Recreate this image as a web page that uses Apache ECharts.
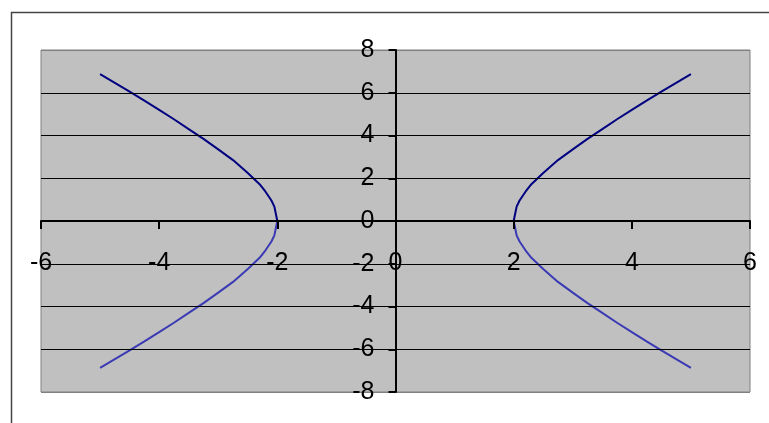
<!DOCTYPE html>
<html>
<head>
<meta charset="utf-8">
<script src="https://cdn.jsdelivr.net/npm/echarts@6/dist/echarts.min.js"></script>
<style>
html,body{margin:0;padding:0;background:#fff;}
#chart{width:769px;height:423px;}
</style>
</head>
<body>
<div id="chart"></div>
<script>
// Values
var xRight = [2, 2.05, 2.1, 2.2, 2.3, 2.5, 2.75, 3, 3.25, 3.5, 3.75, 4, 4.25, 4.5, 4.75, 5];
var xLeft = [-2, -2.05, -2.1, -2.2, -2.3, -2.5, -2.75, -3, -3.25, -3.5, -3.75, -4, -4.25, -4.5, -4.75, -5];
var yUpper = [0, 0.67, 0.96, 1.37, 1.72, 2.25, 2.85, 3.35, 3.84, 4.3, 4.76, 5.2, 5.63, 6.05, 6.46, 6.87];
var yLower = [0, -0.67, -0.96, -1.37, -1.72, -2.25, -2.85, -3.35, -3.84, -4.3, -4.76, -5.2, -5.63, -6.05, -6.46, -6.87];
var xTicks = [-6, -4, -2, 0, 2, 4, 6];
var yTicks = [-8, -6, -4, -2, 0, 2, 4, 6, 8];

function pairs(xs, ys) {
  return xs.map(function (x, i) { return [x, ys[i]]; });
}

var upperColor = '#000080';
var lowerColor = '#3a3ab4';
var labelFont = { fontFamily: 'Liberation Sans, Arial, sans-serif', fontSize: 25, color: '#000' };

var gridLeft = 41, gridRight = 19, gridTop = 50, gridBottom = 31;
var W = 769, H = 423;
var plotW = W - gridLeft - gridRight, plotH = H - gridTop - gridBottom;
// axes cross at zero: shift them inward from the grid edges
var xOffset = -plotH * (0 - yTicks[0]) / (yTicks[yTicks.length - 1] - yTicks[0]);
var yOffset = -plotW * (0 - xTicks[0]) / (xTicks[xTicks.length - 1] - xTicks[0]);

var chart = echarts.init(document.getElementById('chart'), null, { renderer: 'canvas' });
chart.setOption({
  animation: false,
  backgroundColor: '#fff',
  graphic: [{
    type: 'rect',
    shape: { x: 11.5, y: 12.5, width: 800, height: 500 },
    style: { fill: 'none', stroke: '#444', lineWidth: 1.5 },
    silent: true, z: 100
  }],
  grid: {
    left: gridLeft, right: gridRight, top: gridTop, bottom: gridBottom,
    containLabel: false, outerBoundsMode: 'none',
    show: true, backgroundColor: '#C0C0C0', borderColor: '#808080', borderWidth: 1
  },
  xAxis: {
    type: 'value', position: 'bottom', offset: xOffset,
    min: xTicks[0], max: xTicks[xTicks.length - 1], interval: 2,
    axisLine: { onZero: false, lineStyle: { color: '#000', width: 2 } },
    axisTick: { show: true, inside: false, length: 8, lineStyle: { color: '#000', width: 2 } },
    axisLabel: Object.assign({ margin: 30 }, labelFont),
    splitLine: { show: false },
    z: 10
  },
  yAxis: {
    type: 'value', position: 'left', offset: yOffset,
    min: yTicks[0], max: yTicks[yTicks.length - 1], interval: 2,
    axisLine: { onZero: false, lineStyle: { color: '#000', width: 2 } },
    axisTick: { show: true, inside: false, length: 7, lineStyle: { color: '#000', width: 2 } },
    axisLabel: Object.assign({ margin: 21 }, labelFont),
    splitLine: { show: true, lineStyle: { color: ['#808080', '#000', '#000', '#000', '#000', '#000', '#000', '#000', '#808080'], width: 1 } },
    z: 10
  },
  series: [
    { type: 'line', data: pairs(xRight, yUpper), showSymbol: false, lineStyle: { color: upperColor, width: 2 }, itemStyle: { color: upperColor } },
    { type: 'line', data: pairs(xRight, yLower), showSymbol: false, lineStyle: { color: lowerColor, width: 2 }, itemStyle: { color: lowerColor } },
    { type: 'line', data: pairs(xLeft, yUpper), showSymbol: false, lineStyle: { color: upperColor, width: 2 }, itemStyle: { color: upperColor } },
    { type: 'line', data: pairs(xLeft, yLower), showSymbol: false, lineStyle: { color: lowerColor, width: 2 }, itemStyle: { color: lowerColor } }
  ]
});
</script>
</body>
</html>
